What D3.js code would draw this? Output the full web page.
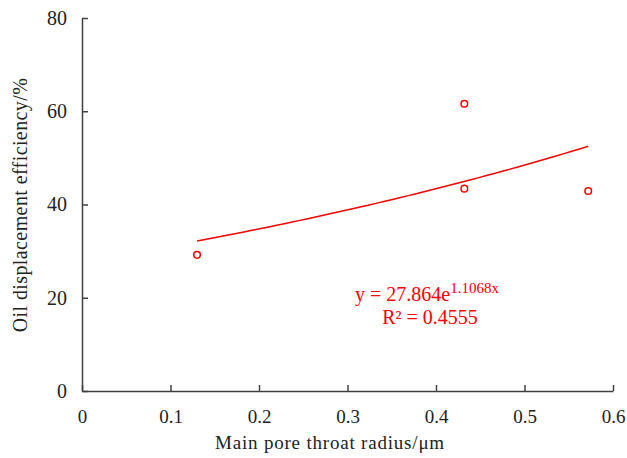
<!DOCTYPE html>
<html>
<head>
<meta charset="utf-8">
<script src="https://cdn.jsdelivr.net/npm/d3@7"></script>
<style>
  body { margin: 0; background: #fff; }
</style>
</head>
<body>
<svg id="chart" width="627" height="458"></svg>
<script>
// data
const radius = [0.13, 0.432, 0.432, 0.572];
const efficiency = [29.2, 61.6, 43.4, 42.9];
const xTicks = [0, 0.1, 0.2, 0.3, 0.4, 0.5, 0.6];
const yTicks = [0, 20, 40, 60, 80];
// exponential trendline shown on the chart: y = a * e^(b x)
const fitA = 27.864;
const fitB = 1.1068;

var font = "'Liberation Serif', 'Times New Roman', serif";
var margin = { left: 82, right: 14, top: 18, bottom: 67 };
var width = 627, height = 458;

var x = d3.scaleLinear().domain([0, 0.6]).range([margin.left, width - margin.right]);
var y = d3.scaleLinear().domain([0, 80]).range([height - margin.bottom, margin.top]);

var svg = d3.select('#chart').attr('font-family', font);
var axisColor = '#404040';

// x axis (ticks inside)
var gx = svg.append('g')
    .attr('transform', 'translate(0,' + y(0) + ')')
    .call(d3.axisBottom(x).tickValues(xTicks).tickSizeInner(-6).tickSizeOuter(0)
        .tickFormat(d => d === 0 ? '0' : d3.format('.1f')(d)));
gx.attr('font-family', font);
gx.select('.domain').attr('stroke', axisColor).attr('stroke-width', 1.5);
gx.selectAll('.tick line').attr('stroke', axisColor).attr('stroke-width', 1.5);
gx.selectAll('.tick text').attr('y', 19).attr('font-size', 19).attr('fill', '#222');

// y axis (ticks inside)
var gy = svg.append('g')
    .attr('transform', 'translate(' + x(0) + ',0)')
    .call(d3.axisLeft(y).tickValues(yTicks).tickSizeInner(-6).tickSizeOuter(0));
gy.attr('font-family', font);
gy.select('.domain').attr('stroke', axisColor).attr('stroke-width', 1.5);
gy.selectAll('.tick line').attr('stroke', axisColor).attr('stroke-width', 1.5);
gy.selectAll('.tick text').attr('x', -15).attr('font-size', 20).attr('fill', '#222');

// axis titles
svg.append('text')
    .attr('x', 330).attr('y', 449)
    .attr('text-anchor', 'middle')
    .attr('font-size', 19).attr('letter-spacing', 0.8).attr('fill', '#222')
    .text('Main pore throat radius/μm');

svg.append('text')
    .attr('transform', 'translate(27,' + 205 + ') rotate(-90)')
    .attr('text-anchor', 'middle')
    .attr('font-size', 20).attr('letter-spacing', 0.4).attr('fill', '#222')
    .text('Oil displacement efficiency/%');

// trendline across the data range
var xmin = d3.min(radius), xmax = d3.max(radius);
var trend = d3.range(0, 51).map(i => {
    var xv = xmin + (xmax - xmin) * i / 50;
    return [xv, fitA * Math.exp(fitB * xv)];
});
svg.append('path')
    .datum(trend)
    .attr('fill', 'none')
    .attr('stroke', '#ff0000')
    .attr('stroke-width', 1.5)
    .attr('d', d3.line().x(d => x(d[0])).y(d => y(d[1])));

// points
svg.selectAll('circle.pt')
    .data(radius)
    .enter()
    .append('circle')
    .attr('class', 'pt')
    .attr('cx', d => x(d))
    .attr('cy', (d, i) => y(efficiency[i]))
    .attr('r', 3.3)
    .attr('fill', '#fff')
    .attr('stroke', '#ff0000')
    .attr('stroke-width', 1.5);

// equation label
var eq = svg.append('text')
    .attr('x', 355).attr('y', 301)
    .attr('font-size', 20).attr('fill', '#ff0000');
eq.append('tspan').text('y = ' + fitA + 'e');
eq.append('tspan').attr('dy', -8).attr('font-size', 15).text(fitB + 'x');

svg.append('text')
    .attr('x', 430).attr('y', 324)
    .attr('text-anchor', 'middle')
    .attr('font-size', 20).attr('fill', '#ff0000')
    .text('R² = 0.4555');
</script>
</body>
</html>
